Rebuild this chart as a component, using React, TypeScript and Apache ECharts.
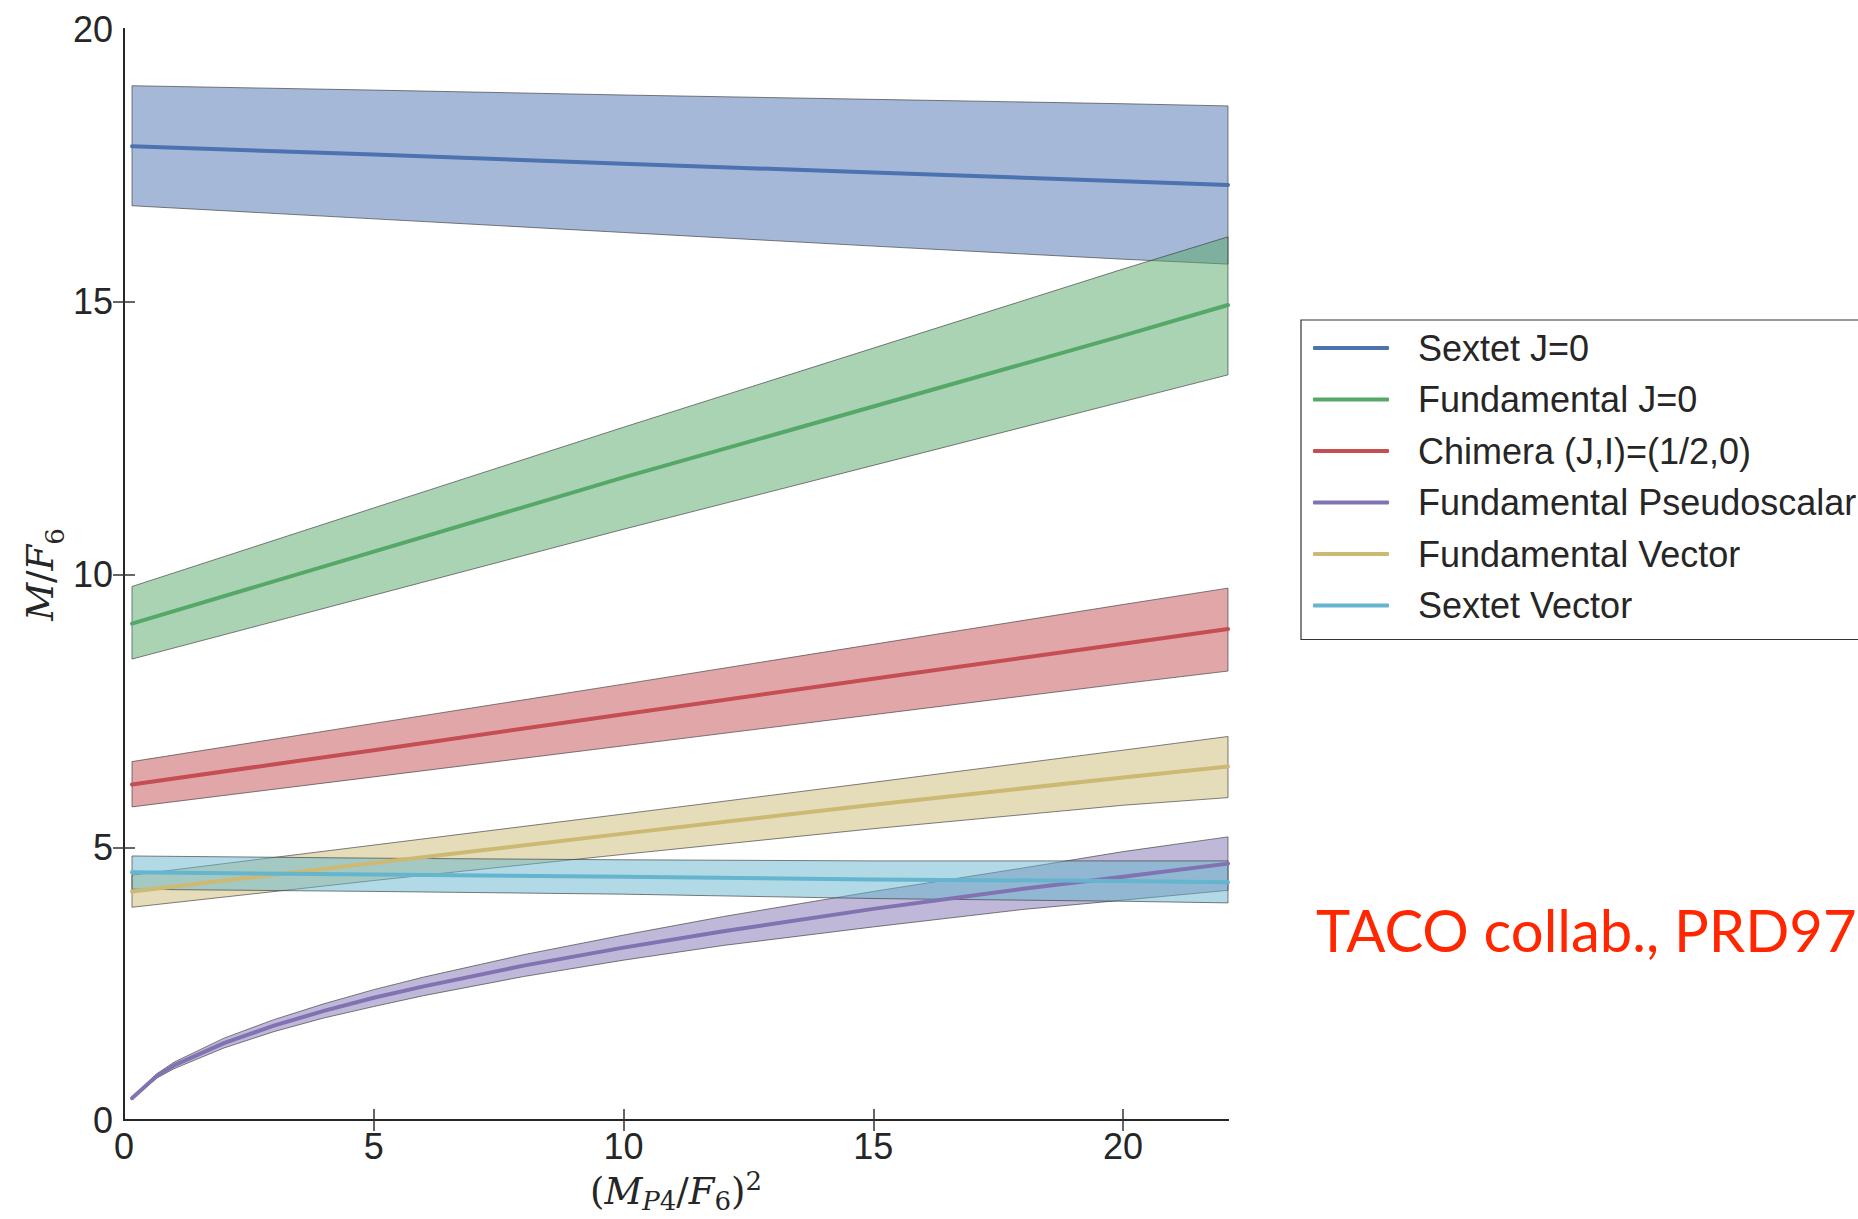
import React, { useEffect, useRef } from "react";
import * as echarts from "echarts";

// ---- data ----
const xLin = [0.16, 5, 10, 15, 20, 22.1];

const sextetJ0 = [17.85, 17.7, 17.53, 17.37, 17.21, 17.14];
const sextetJ0Hi = [18.96, 18.88, 18.79, 18.71, 18.63, 18.59];
const sextetJ0Lo = [16.76, 16.52, 16.27, 16.02, 15.78, 15.69];

const fundJ0 = [9.1, 10.42, 11.78, 13.08, 14.38, 14.94];
const fundJ0Hi = [9.78, 11.22, 12.7, 14.15, 15.6, 16.19];
const fundJ0Lo = [8.45, 9.62, 10.83, 12.0, 13.17, 13.66];

const chimera = [6.15, 6.78, 7.44, 8.09, 8.73, 9.0];
const chimeraHi = [6.57, 7.27, 7.99, 8.72, 9.45, 9.75];
const chimeraLo = [5.74, 6.29, 6.86, 7.43, 8.0, 8.23];

const xPS = [0.16, 0.66, 1, 2, 3, 4, 5, 6, 8, 10, 12, 15, 18, 20, 22.1];
const fundPS = [0.4, 0.81, 1.0, 1.41, 1.73, 2.0, 2.24, 2.45, 2.83, 3.16, 3.46, 3.87, 4.24, 4.46, 4.7];
const fundPSHi = [0.41, 0.85, 1.06, 1.5, 1.84, 2.13, 2.39, 2.62, 3.03, 3.39, 3.73, 4.19, 4.62, 4.92, 5.19];
const fundPSLo = [0.39, 0.77, 0.94, 1.32, 1.62, 1.87, 2.08, 2.28, 2.63, 2.93, 3.2, 3.54, 3.86, 4.03, 4.21];

const fundV = [4.19, 4.71, 5.25, 5.78, 6.28, 6.48];
const fundVHi = [4.49, 5.04, 5.61, 6.19, 6.78, 7.03];
const fundVLo = [3.9, 4.39, 4.87, 5.34, 5.77, 5.91];

const sextetV = [4.54, 4.5, 4.46, 4.41, 4.38, 4.36];
const sextetVHi = [4.84, 4.8, 4.77, 4.75, 4.75, 4.75];
const sextetVLo = [4.23, 4.19, 4.14, 4.06, 4.01, 3.98];

const seriesNames = [
  "Sextet J=0",
  "Fundamental J=0",
  "Chimera (J,I)=(1/2,0)",
  "Fundamental Pseudoscalar",
  "Fundamental Vector",
  "Sextet Vector",
];
const yTickLabels = [0, 5, 10, 15, 20];
const yTickMarks = [5, 10, 15];
const xTickLabels = [0, 5, 10, 15, 20];
const xTickMarks = [5, 10, 15, 20];
const xMax = 22.1;
const yMax = 20;
const note = "TACO collab., PRD97";

const colors = ["#4C72B0", "#55A868", "#C44E52", "#8172B2", "#CCB974", "#64B5CD"];
const fills = [
  "rgba(76,114,176,0.5)",
  "rgba(85,168,104,0.5)",
  "rgba(196,78,82,0.5)",
  "rgba(129,114,178,0.5)",
  "rgba(204,185,116,0.5)",
  "rgba(100,181,205,0.5)",
];

const groups = [
  { xs: xLin, c: sextetJ0, hi: sextetJ0Hi, lo: sextetJ0Lo },
  { xs: xLin, c: fundJ0, hi: fundJ0Hi, lo: fundJ0Lo },
  { xs: xLin, c: chimera, hi: chimeraHi, lo: chimeraLo },
  { xs: xPS, c: fundPS, hi: fundPSHi, lo: fundPSLo },
  { xs: xLin, c: fundV, hi: fundVHi, lo: fundVLo },
  { xs: xLin, c: sextetV, hi: sextetVHi, lo: sextetVLo },
];

const MATH = "DejaVu Serif";
const SANS = "Liberation Sans";
const INK = "#262626";
const makeRich = (L: number, subH: number, supH: number) => ({
  u: { fontFamily: MATH, fontSize: 37, lineHeight: L, color: INK },
  i: { fontFamily: MATH, fontSize: 37, fontStyle: "italic", lineHeight: L, color: INK },
  si: { fontFamily: MATH, fontSize: 26, fontStyle: "italic", lineHeight: subH, verticalAlign: "bottom", color: INK },
  su: { fontFamily: MATH, fontSize: 26, lineHeight: subH, verticalAlign: "bottom", color: INK },
  sp: { fontFamily: MATH, fontSize: 26, lineHeight: supH, verticalAlign: "top", color: INK },
});
const xRich = makeRich(46, 36, 15);
const yRich = makeRich(56, 38, 33);

export default function App() {
  const ref = useRef<HTMLDivElement>(null);
  useEffect(() => {
    document.body.style.margin = "0";
    const chart = echarts.init(ref.current!, null, { renderer: "svg" });
    const series: any[] = [];
    groups.forEach((g, k) => {
      series.push({
        type: "custom",
        name: seriesNames[k] + " band",
        coordinateSystem: "cartesian2d",
        silent: true,
        data: g.xs.map((x, i) => [x, g.lo[i], g.hi[i]]),
        encode: { x: 0, y: [1, 2] },
        renderItem: (params: any, api: any) => {
          if (params.dataIndex !== 0) return null;
          const pts: number[][] = [];
          g.xs.forEach((x, i) => pts.push(api.coord([x, g.hi[i]])));
          for (let i = g.xs.length - 1; i >= 0; i--) pts.push(api.coord([g.xs[i], g.lo[i]]));
          return {
            type: "polygon",
            shape: { points: pts },
            style: { fill: fills[k], stroke: "rgba(60,60,60,0.65)", lineWidth: 1 },
          };
        },
      });
      series.push({
        type: "line",
        name: seriesNames[k],
        data: g.xs.map((x, i) => [x, g.c[i]]),
        showSymbol: false,
        symbol: "none",
        color: colors[k],
        lineStyle: { color: colors[k], width: 4, cap: "round", join: "round" },
      });
    });

    const lineStyle = { show: true, lineStyle: { color: INK, width: 2 } };
    const tick = (vals: number[]) => ({
      show: true,
      inside: true,
      length: 11,
      customValues: vals,
      lineStyle: { color: "#333", width: 1.5 },
    });

    chart.setOption({
      animation: false,
      backgroundColor: "#fff",
      grid: { left: 124, top: 29, width: 1104, height: 1091, containLabel: false, outerBoundsMode: "none" },
      legend: {
        data: seriesNames,
        orient: "vertical",
        left: 1301,
        top: 320,
        padding: [8, 10, 14, 12],
        itemGap: 11.5,
        itemWidth: 76,
        itemHeight: 4,
        icon: "roundRect",
        borderColor: "#333",
        borderWidth: 1.2,
        borderRadius: 0,
        backgroundColor: "#fff",
        formatter: "{a|{name}}",
        textStyle: {
          fontFamily: SANS,
          fontSize: 36,
          color: INK,
          lineHeight: 40,
          rich: { a: { fontFamily: SANS, fontSize: 36, color: INK, lineHeight: 40, padding: [0, 0, 0, 24] } },
        },
      },
      xAxis: [
        {
          type: "value",
          position: "bottom",
          min: 0,
          max: xMax,
          interval: 5,
          axisLine: lineStyle,
          axisTick: tick(xTickMarks),
          splitLine: { show: false },
          axisLabel: {
            fontFamily: SANS,
            fontSize: 36,
            color: INK,
            margin: 8,
            customValues: xTickLabels,
          },
          name: "{u|(}{i|M}{si|P}{su|4}{u|/}{i|F}{su|6}{u|)}{sp|2}",
          nameLocation: "middle",
          nameGap: 48,
          nameMoveOverlap: false,
          nameTextStyle: { rich: xRich },
        },
        {
          type: "value",
          position: "top",
          min: 0,
          max: xMax,
          interval: 5,
          axisLine: lineStyle,
          axisTick: tick(xTickMarks),
          splitLine: { show: false },
          axisLabel: { show: false },
        },
      ],
      yAxis: [
        {
          type: "value",
          position: "left",
          min: 0,
          max: yMax,
          interval: 5,
          axisLine: lineStyle,
          axisTick: tick(yTickMarks),
          splitLine: { show: false },
          axisLabel: {
            fontFamily: SANS,
            fontSize: 36,
            color: INK,
            margin: 11,
            customValues: yTickLabels,
          },
          name: "{i|M}{u|/}{i|F}{su|6}",
          nameLocation: "middle",
          nameRotate: 90,
          nameGap: 56,
          nameMoveOverlap: false,
          nameTextStyle: { rich: yRich },
        },
        {
          type: "value",
          position: "right",
          min: 0,
          max: yMax,
          interval: 5,
          axisLine: lineStyle,
          axisTick: tick(yTickMarks),
          splitLine: { show: false },
          axisLabel: { show: false },
        },
      ],
      graphic: [
        {
          type: "text",
          left: 1316,
          top: 900,
          style: { text: note, fontFamily: "Lato", fontSize: 58, fill: "#ff2600" },
        },
      ],
      series,
    });
    return () => chart.dispose();
  }, []);
  return (
    <div
      ref={ref}
      style={{ position: "absolute", left: 0, top: 0, width: 1858, height: 1219 }}
    />
  );
}
